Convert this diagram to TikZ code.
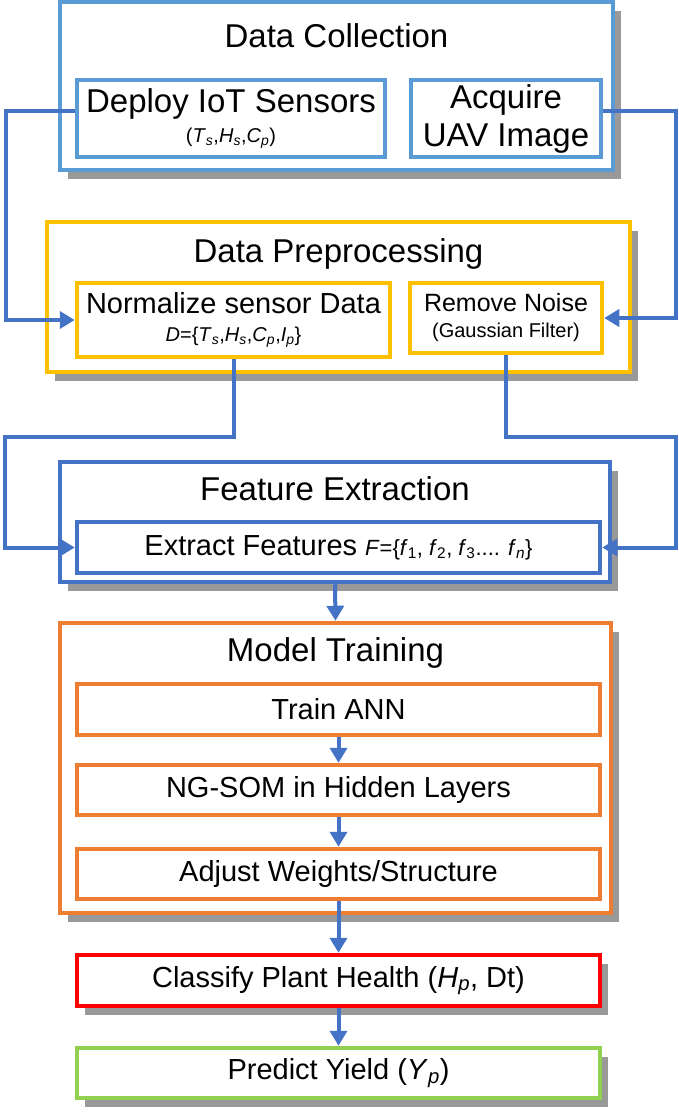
\documentclass[tikz,border=0pt]{standalone}
\usepackage{fontspec}
\setmainfont{Liberation Sans}
\usetikzlibrary{arrows.meta, positioning, calc, shadows}
\definecolor{collect}{HTML}{5B9BD5}
\definecolor{prep}{HTML}{FFC000}
\definecolor{feat}{HTML}{4472C4}
\definecolor{train}{HTML}{ED7D31}
\definecolor{classc}{HTML}{FF0000}
\definecolor{yieldc}{HTML}{92D050}
\definecolor{flow}{HTML}{4472C4}
\newcommand{\symb}[2]{\textit{#1}\textsubscript{\textit{#2}}}
\newcommand{\subtxt}{\fontsize{20}{24}\selectfont}

\begin{document}
\begin{tikzpicture}[x=1pt,y=-1pt,
  stage/.style={draw,line width=4.5pt,fill=white,inner sep=0pt,
    drop shadow={shadow xshift=8pt,shadow yshift=-9pt,fill=black!40,opacity=1}},
  task/.style={draw,line width=4.5pt,fill=white,inner sep=0pt,align=center,
    font=\fontsize{29}{34}\selectfont},
  title/.style={font=\fontsize{33}{38}\selectfont},
  link/.style={draw=flow,line width=4pt,-{Triangle[width=17pt,length=15pt]}}]
  \useasboundingbox (0,0) rectangle (679,1116);
  % data collection
  \node[stage,draw=collect,minimum width=553pt,minimum height=168pt] (dc) at (336.5,86) {};
  \node[title] (dctitle) at (336.5,36) {Data Collection};
  \node[task,draw=collect,minimum width=308pt,minimum height=77pt,font=\fontsize{33}{38}\selectfont] (sens) at (231,118.5)
    {Deploy IoT Sensors\\[-8pt]{\subtxt(\symb{T}{s},\symb{H}{s},\symb{C}{p})}};
  \node[task,draw=collect,minimum width=190pt,minimum height=77pt,font=\fontsize{33}{38}\selectfont] (uav) at (506,118.5)
    {Acquire\\UAV Image};
  % data preprocessing
  \node[stage,draw=prep,minimum width=583pt,minimum height=150pt] (dp) at (338.5,297) {};
  \node[title] (dptitle) at (338.5,254) {Data Preprocessing};
  \node[task,draw=prep,minimum width=313pt,minimum height=74pt] (norm) at (233.5,320)
    {Normalize sensor Data\\[-6pt]{\subtxt\textit{D}=\{\symb{T}{s},\symb{H}{s},\symb{C}{p},\symb{I}{p}\}}};
  \node[task,draw=prep,minimum width=192pt,minimum height=70pt,font=\fontsize{25}{30}\selectfont] (noise) at (506,318)
    {Remove Noise\\[-4pt]{\subtxt(Gaussian Filter)}};
  % feature extraction
  \node[stage,draw=feat,minimum width=550pt,minimum height=120pt] (fe) at (335,522) {};
  \node[title] (fetitle) at (335,489) {Feature Extraction};
  \node[task,draw=feat,minimum width=523pt,minimum height=51pt] (extr) at (338.5,547.5)
    {Extract Features {\fontsize{22}{26}\selectfont\textit{F}=\{\textit{f}\textsubscript{1}, \textit{f}\textsubscript{2}, \textit{f}\textsubscript{3}.... \symb{f}{n}\}}};
  % model training
  \node[stage,draw=train,minimum width=551pt,minimum height=290pt] (mt) at (335.5,768) {};
  \node[title] (mttitle) at (335.5,653) {Model Training};
  \node[task,draw=train,minimum width=523pt,minimum height=51pt] (ann) at (338.5,709.5) {Train ANN};
  \node[task,draw=train,minimum width=523pt,minimum height=50pt] (som) at (338.5,790) {NG-SOM in Hidden Layers};
  \node[task,draw=train,minimum width=523pt,minimum height=50pt] (adj) at (338.5,874) {Adjust Weights/Structure};
  % outputs
  \node[task,stage,draw=classc,minimum width=523pt,minimum height=51pt] (cls) at (338.5,980.5)
    {Classify Plant Health (\symb{H}{p}, Dt)};
  \node[task,stage,draw=yieldc,minimum width=523pt,minimum height=50pt] (yld) at (338.5,1073)
    {Predict Yield (\symb{Y}{p})};
  % connectors
  \coordinate (lbus) at (6,200);
  \coordinate (rbus) at (676,200);
  \coordinate (lturn) at (5,437);
  \coordinate (rturn) at (676,437);
  \draw[link] ([yshift=8pt]sens.west) -| (lbus) |- (norm.west);
  \draw[link] ([yshift=8pt]uav.east) -| (rbus) |- (noise.east);
  \draw[link] (norm.south) |- (lturn) |- (extr.west);
  \draw[link] (noise.south) |- (rturn) |- (extr.east);
  \draw[link] (fe.south) -- (mt.north);
  \draw[link] (ann) -- (som);
  \draw[link] (som) -- (adj);
  \draw[link] (adj.south) -- (cls.north);
  \draw[link] (cls) -- (yld);
\end{tikzpicture}
\end{document}
